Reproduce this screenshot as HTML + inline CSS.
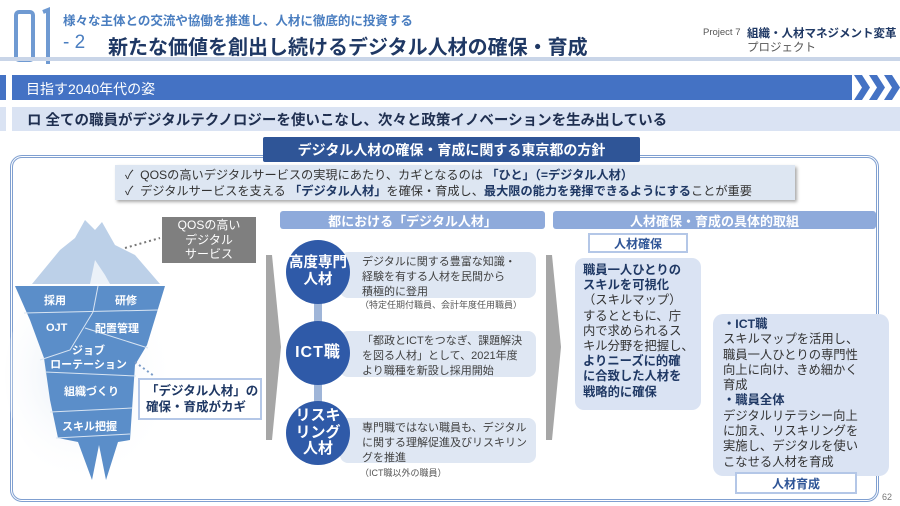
<!DOCTYPE html>
<html><head><meta charset="utf-8"><style>
*{margin:0;padding:0;box-sizing:border-box}
body{width:900px;height:506px;position:relative;background:#fff;overflow:hidden;font-family:"Liberation Sans","Noto Sans CJK JP",sans-serif;color:#333}
.a{position:absolute;white-space:nowrap}
.c{display:flex;align-items:center;justify-content:center;text-align:center}
.circ{position:absolute;width:64px;height:64px;border-radius:50%;background:#2f5aa8;color:#fff;font-weight:bold;display:flex;align-items:center;justify-content:center;text-align:center;line-height:1.15}
.tb{position:absolute;left:340px;width:196px;background:#dfe7f3;border-radius:8px;padding:3px 6px 4px 22px;font-size:11px;line-height:1.38;color:#404040;white-space:nowrap}
.note{position:absolute;font-size:9px;color:#555;white-space:nowrap}
.ib{position:absolute;color:#fff;font-weight:bold;font-size:11px;white-space:nowrap}
</style></head><body>
<svg class="a" style="left:10px;top:6px" width="45" height="60"><rect x="6" y="6" width="17" height="48" rx="3" fill="none" stroke="#6f9ad2" stroke-width="4"/><path d="M33 6 L38 4 L38 58" fill="none" stroke="#6f9ad2" stroke-width="4"/></svg>
<div class="a" style="left:0;top:57px;width:900px;height:4px;background:#c9d5e8"></div>
<div class="a" style="left:63px;top:10px;font-size:12.5px;color:#4a7ec0;font-weight:bold">様々な主体との交流や協働を推進し、人材に徹底的に投資する</div>
<div class="a" style="left:63px;top:32px;font-size:19px;color:#4a7ec0">- 2</div>
<div class="a" style="left:108px;top:31px;font-size:20px;color:#1f3864;font-weight:bold">新たな価値を創出し続けるデジタル人材の確保・育成</div>
<div class="a" style="left:703px;top:27px;font-size:9.5px;color:#555">Project 7</div>
<div class="a" style="left:747px;top:25px;font-size:11.5px;color:#1f3864;font-weight:bold">組織・人材マネジメント変革</div>
<div class="a" style="left:747px;top:39px;font-size:11.5px;color:#555">プロジェクト</div>
<div class="a" style="left:0;top:75px;width:6px;height:25px;background:#4472c4"></div>
<div class="a" style="left:12px;top:75px;width:840px;height:25px;background:#4472c4;color:#fff;font-size:14px;padding:4px 0 0 14px">目指す2040年代の姿</div>
<svg class="a" style="left:852px;top:75px" width="48" height="25"><path d="M2 0h8l8 12.5-8 12.5h-8l8-12.5z M17 0h8l8 12.5-8 12.5h-8l8-12.5z M32 0h8l8 12.5-8 12.5h-8l8-12.5z" fill="#4472c4"/></svg>
<div class="a" style="left:0;top:107px;width:6px;height:24px;background:#dae3f3"></div>
<div class="a" style="left:12px;top:107px;width:888px;height:24px;background:#dae3f3;color:#1f2f50;font-size:14.5px;font-weight:bold;padding:2px 0 0 15px">ロ 全ての職員がデジタルテクノロジーを使いこなし、次々と政策イノベーションを生み出している</div>
<div class="a" style="left:10px;top:155px;width:869px;height:347px;border:3px double #7f9fd0;border-radius:12px"></div>
<div class="a c" style="left:263px;top:137px;width:377px;height:25px;background:#2f5597;color:#fff;font-size:14px;font-weight:bold;border-radius:2px">デジタル人材の確保・育成に関する東京都の方針</div>
<div class="a" style="left:115px;top:165px;width:680px;height:35px;background:#dde6f2;box-shadow:2px 2px 3px #aaa;font-size:12.2px;line-height:16px;padding:2px 0 0 10px;color:#333">
✓&nbsp; QOSの高いデジタルサービスの実現にあたり、カギとなるのは <b style="color:#1f3864">「ひと」（=デジタル人材）</b><br>
✓&nbsp; デジタルサービスを支える <b style="color:#1f3864">「デジタル人材」</b>を確保・育成し、<b style="color:#1f3864">最大限の能力を発揮できるようにする</b>ことが重要</div>
<div class="a c" style="left:280px;top:211px;width:265px;height:18px;background:#8eaadb;color:#fff;font-size:13px;font-weight:bold;border-radius:3px">都における「デジタル人材」</div>
<div class="a c" style="left:553px;top:211px;width:323px;height:18px;background:#8eaadb;color:#fff;font-size:13px;font-weight:bold;border-radius:3px">人材確保・育成の具体的取組</div>
<svg class="a" style="left:0;top:200px" width="270" height="300">
<defs><radialGradient id="g" cx="0.4" cy="0.5" r="0.5"><stop offset="0" stop-color="#e3ebf5"/><stop offset="1" stop-color="#fff" stop-opacity="0"/></radialGradient></defs>
<ellipse cx="100" cy="175" rx="95" ry="110" fill="url(#g)"/>
<path d="M32 84 L60 50 L75 38 L85 20 L95 30 L102 22 L115 45 L135 55 L160 84 Z" fill="#bcd0e8"/>
<path d="M90 84 L95 60 L105 75 L110 84Z" fill="#fff" opacity=".7"/>
<path d="M15 86 L165 86 L147 145 L135 165 L130 240 L118 242 L106 280 L99 245 L92 280 L78 242 L58 238 L50 200 L44 158 L30 120 Z" fill="#5b8ec9"/>
<g stroke="#d8e4f2" stroke-width="1" fill="none"><path d="M24 113 L158 110"/><path d="M98 86 L93 112"/><path d="M93 112 L70 150 L40 160"/><path d="M85 128 L148 148"/><path d="M45 172 L136 176"/><path d="M50 212 L132 208"/><path d="M56 238 L130 234"/></g>
<path d="M135 162 L154 176" stroke="#7a9cc8" stroke-width="2" stroke-dasharray="2 3"/>
<path d="M125 48 L160 38" stroke="#777" stroke-width="2" stroke-dasharray="2 3"/>
</svg>
<div class="ib" style="left:44px;top:292px">採用</div>
<div class="ib" style="left:115px;top:292px">研修</div>
<div class="ib" style="left:46px;top:322px">OJT</div>
<div class="ib" style="left:95px;top:320px">配置管理</div>
<div class="ib" style="left:46px;top:344px;text-align:center;width:85px;line-height:1.3">ジョブ<br>ローテーション</div>
<div class="ib" style="left:64px;top:383px">組織づくり</div>
<div class="ib" style="left:62px;top:418px">スキル把握</div>
<div class="a c" style="left:162px;top:217px;width:94px;height:46px;background:#7f7f7f;color:#fff;font-size:12px;line-height:1.2">QOSの高い<br>デジタル<br>サービス</div>
<div class="a" style="left:138px;top:378px;width:124px;height:42px;background:#fff;border:2px solid #b4c7e7;color:#1f3864;font-weight:bold;font-size:12.5px;line-height:1.3;padding:3px 0 0 6px">「デジタル人材」の<br>確保・育成がカギ</div>
<svg class="a" style="left:266px;top:255px" width="16" height="185"><path d="M0 0 L6 0 L15 92 L6 185 L0 185 Z" fill="#a6a6a6"/></svg>
<svg class="a" style="left:546px;top:255px" width="16" height="185"><path d="M0 0 L6 0 L15 92 L6 185 L0 185 Z" fill="#a6a6a6"/></svg>
<div class="a" style="left:314px;top:300px;width:8px;height:30px;background:#9fb5d8"></div>
<div class="a" style="left:314px;top:380px;width:8px;height:30px;background:#9fb5d8"></div>
<div class="tb" style="top:252px;height:46px">デジタルに関する豊富な知識・<br>経験を有する人材を民間から<br>積極的に登用</div>
<div class="note" style="left:360px;top:298px">（特定任期付職員、会計年度任用職員）</div>
<div class="tb" style="top:331px;height:46px">「都政とICTをつなぎ、課題解決<br>を図る人材」として、2021年度<br>より職種を新設し採用開始</div>
<div class="tb" style="top:418px;height:45px">専門職ではない職員も、デジタル<br>に関する理解促進及びリスキリン<br>グを推進</div>
<div class="note" style="left:360px;top:466px">（ICT職以外の職員）</div>
<div class="circ" style="left:286px;top:240px;font-size:14.5px">高度専門<br>人材</div>
<div class="circ" style="left:286px;top:321px;font-size:16px;letter-spacing:1px">ICT職</div>
<div class="circ" style="left:286px;top:401px;font-size:15px;line-height:1.1">リスキ<br>リング<br>人材</div>
<div class="a c" style="left:588px;top:233px;width:100px;height:20px;background:#fff;border:2px solid #b4c7e7;color:#2f5597;font-weight:bold;font-size:12px">人材確保</div>
<div class="a" style="left:575px;top:258px;width:126px;height:152px;background:#dae3f3;border-radius:9px;padding:5px 0 0 8px;font-size:12.3px;line-height:15.2px;color:#333"><b style="color:#1f3864">職員一人ひとりの<br>スキルを可視化</b><br>（スキルマップ）<br>するとともに、庁<br>内で求められるス<br>キル分野を把握し、<br><b style="color:#1f3864">よりニーズに的確<br>に合致した人材を<br>戦略的に確保</b></div>
<div class="a" style="left:713px;top:314px;width:176px;height:162px;background:#dae3f3;border-radius:10px;padding:3px 0 0 10px;font-size:12.3px;line-height:15.3px;color:#333"><b style="color:#1f3864">・ICT職</b><br>スキルマップを活用し、<br>職員一人ひとりの専門性<br>向上に向け、きめ細かく<br>育成<br><b style="color:#1f3864">・職員全体</b><br>デジタルリテラシー向上<br>に加え、リスキリングを<br>実施し、デジタルを使い<br>こなせる人材を育成</div>
<div class="a c" style="left:735px;top:472px;width:122px;height:22px;background:#fff;border:2px solid #b4c7e7;color:#2f5597;font-weight:bold;font-size:12px">人材育成</div>
<div class="a" style="left:882px;top:492px;font-size:9px;color:#777">62</div>
</body></html>
